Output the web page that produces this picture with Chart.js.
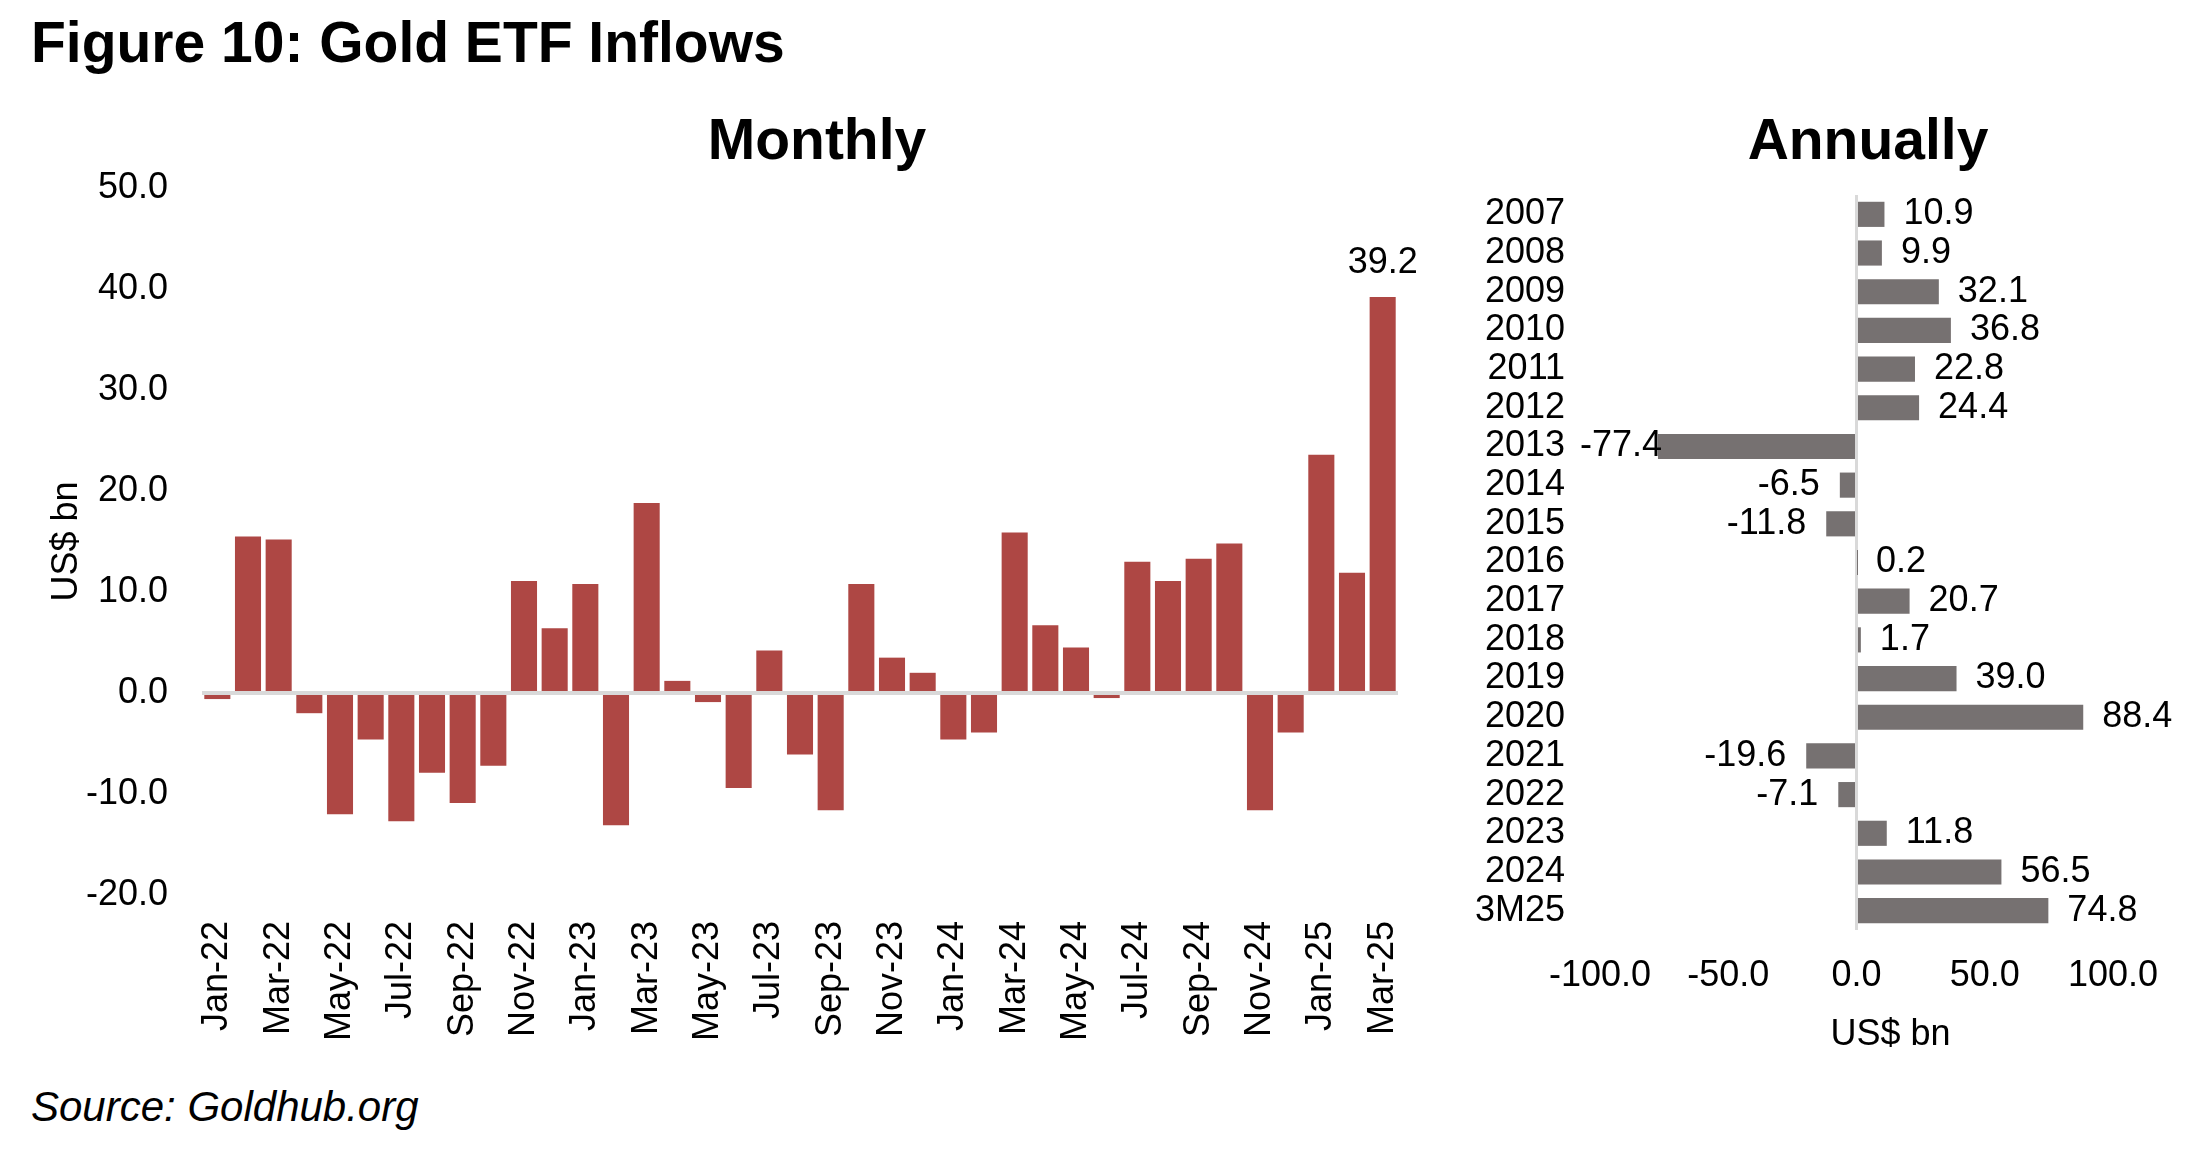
<!DOCTYPE html>
<html>
<head>
<meta charset="utf-8">
<script src="https://cdn.jsdelivr.net/npm/chart.js@4.4.0/dist/chart.umd.min.js"></script>
<style>
  html, body { margin: 0; padding: 0; background: #ffffff; }
  body { width: 2195px; height: 1156px; position: relative; overflow: hidden; font-family: "Liberation Sans", Arial, sans-serif; color: #000; }
  .txt { position: absolute; white-space: nowrap; }
  #title { left: 31px; top: 14px; font-size: 57px; line-height: 57px; font-weight: bold; }
  .sub { font-size: 57px; line-height: 57px; font-weight: bold; width: 400px; text-align: center; top: 111px; }
  #monthlyTitle { left: 617px; }
  #annualTitle { left: 1668px; }
  #source { left: 31px; top: 1086px; font-size: 42px; line-height: 42px; font-style: italic; }
  canvas { position: absolute; }
  #monthly { left: 0px; top: 150px; }
  #annual { left: 1420px; top: 150px; }
</style>
</head>
<body>
<div id="title" class="txt">Figure 10: Gold ETF Inflows</div>
<div id="monthlyTitle" class="txt sub">Monthly</div>
<div id="annualTitle" class="txt sub">Annually</div>
<canvas id="monthly" width="1420" height="910" style="width:1420px;height:910px;"></canvas>
<canvas id="annual" width="775" height="950" style="width:775px;height:950px;"></canvas>
<div id="source" class="txt">Source: Goldhub.org</div>
<script>
// ---------- DATA ----------
const months = [
  "Jan-22","Feb-22","Mar-22","Apr-22","May-22","Jun-22","Jul-22","Aug-22","Sep-22","Oct-22","Nov-22","Dec-22",
  "Jan-23","Feb-23","Mar-23","Apr-23","May-23","Jun-23","Jul-23","Aug-23","Sep-23","Oct-23","Nov-23","Dec-23",
  "Jan-24","Feb-24","Mar-24","Apr-24","May-24","Jun-24","Jul-24","Aug-24","Sep-24","Oct-24","Nov-24","Dec-24",
  "Jan-25","Feb-25","Mar-25"
];
const monthlyInflows = [
  -0.6, 15.5, 15.2, -2.0, -12.0, -4.6, -12.7, -7.9, -10.9, -7.2, 11.1, 6.4,
  10.8, -13.1, 18.8, 1.2, -0.9, -9.4, 4.2, -6.1, -11.6, 10.8, 3.5, 2.0,
  -4.6, -3.9, 15.9, 6.7, 4.5, -0.5, 13.0, 11.1, 13.3, 14.8, -11.6, -3.9,
  23.6, 11.9, 39.2
];
const years = ["2007","2008","2009","2010","2011","2012","2013","2014","2015","2016","2017","2018","2019","2020","2021","2022","2023","2024","3M25"];
const annualInflows = [10.9, 9.9, 32.1, 36.8, 22.8, 24.4, -77.4, -6.5, -11.8, 0.2, 20.7, 1.7, 39.0, 88.4, -19.6, -7.1, 11.8, 56.5, 74.8];
const monthlyAxis = { min: -20, max: 50, step: 10 };
const annualAxis = { min: -100, max: 100, step: 50 };
const axisTitle = "US$ bn";

// ---------- STYLE ----------
const FONT = '"Liberation Sans", Arial, sans-serif';
const RED = '#AE4744';
const GREY = '#767171';
const ZERO = '#D9D9D9';
Chart.defaults.font.family = FONT;
Chart.defaults.font.size = 36;
Chart.defaults.color = '#000000';
Chart.defaults.animation = false;

function labelPlugin(cfg) {
  return {
    id: 'valueLabels',
    afterDatasetsDraw(chart) {
      const ctx = chart.ctx;
      const area = chart.chartArea;
      const meta = chart.getDatasetMeta(0);
      const data = chart.data.datasets[0].data;
      ctx.save();
      ctx.font = '36px ' + FONT;
      ctx.fillStyle = '#000000';
      meta.data.forEach((bar, i) => {
        if (!cfg.show(i)) return;
        const v = data[i];
        const text = v.toFixed(1);
        if (cfg.horizontal) {
          ctx.textBaseline = 'middle';
          if (v >= 0) {
            ctx.textAlign = 'left';
            ctx.fillText(text, bar.x + 19, bar.y);
          } else {
            const w = ctx.measureText(text).width;
            let right = bar.x - 20;
            const minLeft = area.left - 20;
            if (right - w < minLeft) right = minLeft + w;
            ctx.textAlign = 'right';
            ctx.fillText(text, right, bar.y);
          }
        } else {
          ctx.textAlign = 'center';
          ctx.textBaseline = 'alphabetic';
          ctx.fillText(text, bar.x, bar.y - 24);
        }
      });
      ctx.restore();
    }
  };
}

// x-axis title of the annual chart, set slightly right of the axis centre as in the source
const annualAxisTitle = {
  id: 'annualAxisTitle',
  afterDraw(chart) {
    const s = chart.scales.x;
    const ctx = chart.ctx;
    ctx.save();
    ctx.font = '36px ' + FONT;
    ctx.fillStyle = '#000000';
    ctx.textAlign = 'center';
    ctx.textBaseline = 'middle';
    ctx.fillText(axisTitle, (s.left + s.right) / 2 + 34, s.bottom - 65);
    ctx.restore();
  }
};

function fixBox(size, isHorizontal) {
  return (s) => {
    if (isHorizontal) { s.height = size; } else { s.width = size; }
    s.paddingLeft = 0; s.paddingRight = 0; s.paddingTop = 0; s.paddingBottom = 0;
  };
}

// ---------- MONTHLY ----------
new Chart(document.getElementById('monthly'), {
  type: 'bar',
  data: {
    labels: months,
    datasets: [{
      data: monthlyInflows,
      backgroundColor: RED,
      borderWidth: 0,
      categoryPercentage: 1.0,
      barPercentage: 0.85
    }]
  },
  plugins: [labelPlugin({ horizontal: false, show: (i) => i === monthlyInflows.length - 1 })],
  options: {
    responsive: false,
    maintainAspectRatio: false,
    layout: { padding: { left: 0, right: 22, top: 38, bottom: 0 } },
    plugins: { legend: { display: false }, tooltip: { enabled: false }, title: { display: false } },
    scales: {
      x: {
        grid: { display: false, drawTicks: false },
        border: { display: false },
        ticks: {
          autoSkip: false,
          minRotation: 90,
          maxRotation: 90,
          padding: 26,
          font: { size: 36 },
          callback: function (value, index) { return index % 2 === 0 ? this.getLabelForValue(value) : ''; }
        },
        afterFit: fixBox(165, true)
      },
      y: {
        min: monthlyAxis.min,
        max: monthlyAxis.max,
        ticks: { stepSize: monthlyAxis.step, padding: 34, font: { size: 36 }, callback: (v) => Number(v).toFixed(1) },
        grid: {
          drawTicks: false,
          color: (c) => (c.tick && c.tick.value === 0 ? ZERO : 'rgba(0,0,0,0)'),
          lineWidth: 4
        },
        border: { display: false },
        title: { display: true, text: axisTitle, font: { size: 36 }, padding: { top: 45, bottom: 0 } },
        afterFit: fixBox(202, false)
      }
    }
  }
});

// ---------- ANNUAL ----------
new Chart(document.getElementById('annual'), {
  type: 'bar',
  data: {
    labels: years,
    datasets: [{
      data: annualInflows,
      backgroundColor: GREY,
      borderWidth: 0,
      categoryPercentage: 1.0,
      barPercentage: 0.65
    }]
  },
  plugins: [labelPlugin({ horizontal: true, show: () => true }), annualAxisTitle],
  options: {
    indexAxis: 'y',
    responsive: false,
    maintainAspectRatio: false,
    layout: { padding: { left: 0, right: 82, top: 45, bottom: 0 } },
    plugins: { legend: { display: false }, tooltip: { enabled: false }, title: { display: false } },
    scales: {
      x: {
        min: annualAxis.min,
        max: annualAxis.max,
        ticks: { stepSize: annualAxis.step, padding: 24, font: { size: 36 }, callback: (v) => Number(v).toFixed(1) },
        grid: {
          drawTicks: false,
          color: (c) => (c.tick && c.tick.value === 0 ? ZERO : 'rgba(0,0,0,0)'),
          lineWidth: 3
        },
        border: { display: false },
        title: { display: false, text: axisTitle },
        afterFit: fixBox(170, true)
      },
      y: {
        grid: { display: false, drawTicks: false },
        border: { display: false },
        ticks: { autoSkip: false, padding: 35, font: { size: 36 } },
        afterFit: fixBox(180, false)
      }
    }
  }
});
</script>
</body>
</html>
